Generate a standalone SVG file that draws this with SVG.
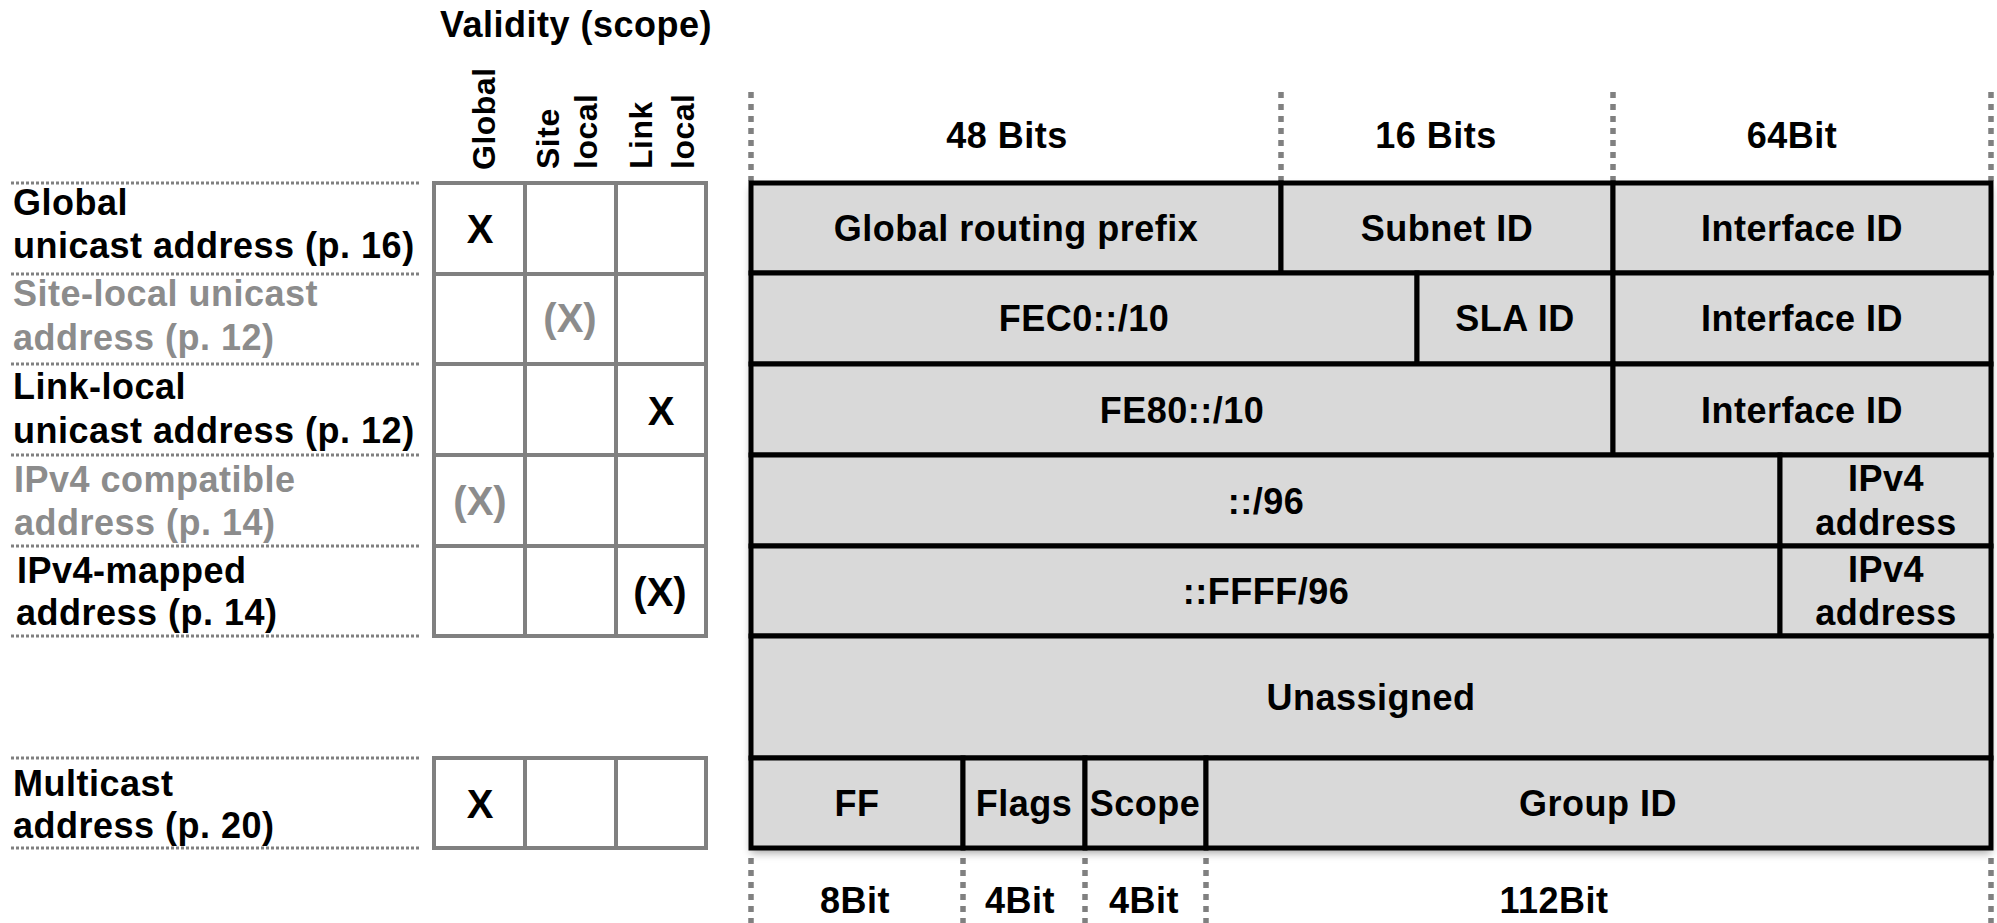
<svg xmlns="http://www.w3.org/2000/svg" width="1997" height="923" viewBox="0 0 1997 923">
<style>
.t{font-family:"Liberation Sans",Arial,Helvetica,sans-serif;font-weight:bold;font-size:36px;fill:#000;letter-spacing:0.5px}
.c{text-anchor:middle}
.g{fill:#8c8c8c}
.x{font-size:40px;letter-spacing:0}
.h{font-size:32px}
.cell{fill:#d9d9d9;stroke:#000;stroke-width:5}
.grid{fill:#fff;stroke:#808080;stroke-width:4}
.gl{stroke:#808080;stroke-width:4;fill:none}
.sep{stroke:#808080;stroke-width:3;stroke-dasharray:3 2;fill:none}
.dash{stroke:#808080;stroke-width:5.5;stroke-dasharray:6 6;fill:none}
</style>
<defs>
<filter id="sh" x="-5%" y="-5%" width="110%" height="115%">
<feDropShadow dx="0" dy="5" stdDeviation="4" flood-color="#000" flood-opacity="0.35"/>
</filter>
</defs>
<rect width="1997" height="923" fill="#fff"/>

<g id="title">
<text class="t c" x="576" y="37">Validity (scope)</text>
</g>

<g id="scope-headers">
<text class="t h" transform="translate(495,170) rotate(-90)">Global</text>
<text class="t h" transform="translate(559,169) rotate(-90)">Site</text>
<text class="t h" transform="translate(597,169) rotate(-90)">local</text>
<text class="t h" transform="translate(652,169) rotate(-90)">Link</text>
<text class="t h" transform="translate(694,169) rotate(-90)">local</text>
</g>

<g id="separators">
<line class="sep" x1="11" y1="183" x2="420" y2="183"/>
<line class="sep" x1="11" y1="274" x2="420" y2="274"/>
<line class="sep" x1="11" y1="364" x2="420" y2="364"/>
<line class="sep" x1="11" y1="455" x2="420" y2="455"/>
<line class="sep" x1="11" y1="546" x2="420" y2="546"/>
<line class="sep" x1="11" y1="636" x2="420" y2="636"/>
<line class="sep" x1="11" y1="758" x2="420" y2="758"/>
<line class="sep" x1="11" y1="848" x2="420" y2="848"/>
</g>

<g id="row-labels">
<text class="t" x="13" y="215">Global</text>
<text class="t" x="13" y="258">unicast address (p. 16)</text>
<text class="t g" x="13" y="306">Site-local unicast</text>
<text class="t g" x="13" y="350">address (p. 12)</text>
<text class="t" x="13" y="399">Link-local</text>
<text class="t" x="13" y="443">unicast address (p. 12)</text>
<text class="t g" x="14" y="492">IPv4 compatible</text>
<text class="t g" x="14" y="535">address (p. 14)</text>
<text class="t" x="17" y="583">IPv4-mapped</text>
<text class="t" x="16" y="625">address (p. 14)</text>
<text class="t" x="13" y="796">Multicast</text>
<text class="t" x="13" y="838">address (p. 20)</text>
</g>

<g id="scope-grid">
<rect class="grid" x="434" y="183" width="272" height="453"/>
<line class="gl" x1="434" y1="274" x2="706" y2="274"/>
<line class="gl" x1="434" y1="364" x2="706" y2="364"/>
<line class="gl" x1="434" y1="455" x2="706" y2="455"/>
<line class="gl" x1="434" y1="546" x2="706" y2="546"/>
<line class="gl" x1="525" y1="183" x2="525" y2="636"/>
<line class="gl" x1="616" y1="183" x2="616" y2="636"/>
<rect class="grid" x="434" y="758" width="272" height="90"/>
<line class="gl" x1="525" y1="758" x2="525" y2="848"/>
<line class="gl" x1="616" y1="758" x2="616" y2="848"/>
<text class="t c x" x="480" y="243">X</text>
<text class="t c x g" x="570" y="332">(X)</text>
<text class="t c x" x="661" y="425">X</text>
<text class="t c x g" x="480" y="515">(X)</text>
<text class="t c x" x="660" y="606">(X)</text>
<text class="t c x" x="480" y="818">X</text>
</g>

<g id="bit-guides">
<line class="dash" x1="751" y1="92" x2="751" y2="181"/>
<line class="dash" x1="1281" y1="92" x2="1281" y2="181"/>
<line class="dash" x1="1613" y1="92" x2="1613" y2="181"/>
<line class="dash" x1="1991" y1="92" x2="1991" y2="181"/>
<line class="dash" x1="751" y1="858" x2="751" y2="923"/>
<line class="dash" x1="963" y1="858" x2="963" y2="923"/>
<line class="dash" x1="1085" y1="858" x2="1085" y2="923"/>
<line class="dash" x1="1206" y1="858" x2="1206" y2="923"/>
<line class="dash" x1="1991" y1="858" x2="1991" y2="923"/>
</g>

<g id="bit-labels">
<text class="t c" x="1007" y="148">48 Bits</text>
<text class="t c" x="1436" y="148">16 Bits</text>
<text class="t c" x="1792" y="148">64Bit</text>
<text class="t c" x="855" y="913">8Bit</text>
<text class="t c" x="1020" y="913">4Bit</text>
<text class="t c" x="1144" y="913">4Bit</text>
<text class="t c" x="1554" y="913">112Bit</text>
</g>

<rect x="751" y="183" width="1240" height="665" fill="#d9d9d9" filter="url(#sh)"/>

<g id="row-global">
<rect class="cell" x="751" y="183" width="530" height="90"/>
<rect class="cell" x="1281" y="183" width="332" height="90"/>
<rect class="cell" x="1613" y="183" width="378" height="90"/>
<text class="t c" x="1016" y="241">Global routing prefix</text>
<text class="t c" x="1447" y="241">Subnet ID</text>
<text class="t c" x="1802" y="241">Interface ID</text>
</g>

<g id="row-sitelocal">
<rect class="cell" x="751" y="273" width="666" height="91"/>
<rect class="cell" x="1417" y="273" width="196" height="91"/>
<rect class="cell" x="1613" y="273" width="378" height="91"/>
<text class="t c" x="1084" y="331">FEC0::/10</text>
<text class="t c" x="1515" y="331">SLA ID</text>
<text class="t c" x="1802" y="331">Interface ID</text>
</g>

<g id="row-linklocal">
<rect class="cell" x="751" y="364" width="862" height="91"/>
<rect class="cell" x="1613" y="364" width="378" height="91"/>
<text class="t c" x="1182" y="423">FE80::/10</text>
<text class="t c" x="1802" y="423">Interface ID</text>
</g>

<g id="row-ipv4compat">
<rect class="cell" x="751" y="455" width="1029" height="91"/>
<rect class="cell" x="1780" y="455" width="211" height="91"/>
<text class="t c" x="1266" y="514">::/96</text>
<text class="t c" x="1886" y="491">IPv4</text>
<text class="t c" x="1886" y="535">address</text>
</g>

<g id="row-ipv4mapped">
<rect class="cell" x="751" y="546" width="1029" height="90"/>
<rect class="cell" x="1780" y="546" width="211" height="90"/>
<text class="t c" x="1266" y="604">::FFFF/96</text>
<text class="t c" x="1886" y="582">IPv4</text>
<text class="t c" x="1886" y="625">address</text>
</g>

<g id="row-unassigned">
<rect class="cell" x="751" y="636" width="1240" height="122"/>
<text class="t c" x="1371" y="710">Unassigned</text>
</g>

<g id="row-multicast">
<rect class="cell" x="751" y="758" width="212" height="90"/>
<rect class="cell" x="963" y="758" width="122" height="90"/>
<rect class="cell" x="1085" y="758" width="121" height="90"/>
<rect class="cell" x="1206" y="758" width="785" height="90"/>
<text class="t c" x="857" y="816">FF</text>
<text class="t c" x="1024" y="816">Flags</text>
<text class="t c" x="1145" y="816">Scope</text>
<text class="t c" x="1598" y="816">Group ID</text>
</g>
</svg>
